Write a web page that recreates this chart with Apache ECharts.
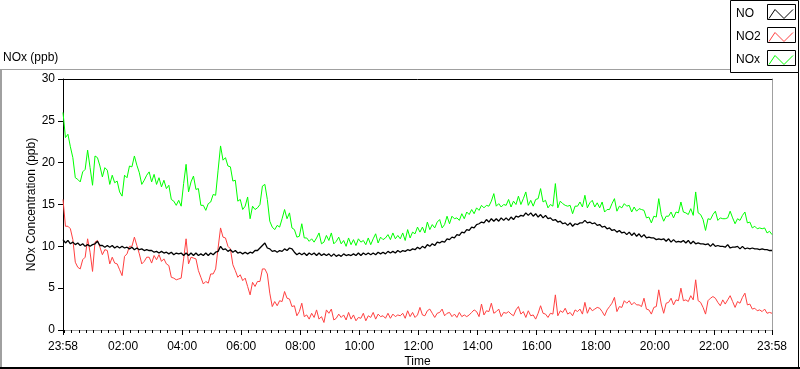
<!DOCTYPE html>
<html><head><meta charset="utf-8">
<script src="https://cdn.jsdelivr.net/npm/echarts@6/dist/echarts.min.js"></script>
<style>html,body{margin:0;padding:0;background:#fff}#c{width:800px;height:369px}</style>
</head><body><div id="c"></div><script>
// Time grid: minutes after 00:00, starting at 23:58 of the previous day, 5-minute samples
const startMinute = -2;
const stepMinutes = 5;
const endMinute = 1438;
const majorTicks = [-2, 120, 240, 360, 480, 600, 720, 840, 960, 1080, 1200, 1320, 1438];
const seriesNames = ['NO', 'NO2', 'NOx'];

// NO (ppb)
const no = [
10.8,10.4,10.7,10.3,10.5,10.2,10.4,10.1,10.3,10.0,10.2,10.0,
10.2,10.3,10.6,10.1,10.1,9.9,10.1,9.9,10.1,9.8,10.0,9.8,
10.0,9.8,9.9,9.7,9.9,9.6,9.8,9.6,9.7,9.5,9.6,9.5,
9.5,9.3,9.4,9.2,9.4,9.2,9.3,9.1,9.3,9.0,9.2,9.1,
9.2,8.9,9.2,8.9,9.2,8.9,9.2,8.9,9.1,8.9,9.2,8.9,
9.2,9.0,9.3,9.4,10.0,9.6,9.7,9.4,9.6,9.3,9.5,9.2,
9.3,9.1,9.3,9.1,9.3,9.2,9.5,9.5,9.8,10.1,10.4,9.8,
9.7,9.4,9.5,9.3,9.5,9.4,9.7,9.5,9.8,9.7,9.3,9.0,
9.2,9.0,9.2,8.9,9.2,9.0,9.2,8.9,9.2,8.9,9.1,8.9,
9.1,8.8,9.1,8.8,9.0,8.8,9.1,8.9,9.0,8.9,9.1,8.9,
9.2,8.9,9.2,9.0,9.2,9.0,9.2,9.0,9.3,9.1,9.3,9.1,
9.4,9.2,9.4,9.2,9.5,9.3,9.5,9.4,9.6,9.5,9.7,9.6,
9.9,9.7,10.0,9.8,10.2,10.0,10.3,10.1,10.5,10.4,10.6,10.5,
10.9,10.8,11.1,11.0,11.4,11.3,11.7,11.6,12.0,11.9,12.3,12.2,
12.6,12.7,12.9,12.8,13.2,12.9,13.3,13.0,13.3,13.0,13.4,13.1,
13.4,13.1,13.5,13.2,13.6,13.5,13.7,13.6,14.0,13.7,14.0,13.6,
13.9,13.5,13.8,13.4,13.7,13.3,13.4,13.1,13.2,12.9,13.0,12.7,
12.8,12.5,12.8,12.4,12.7,12.6,12.8,12.8,13.1,12.8,12.9,12.7,
12.8,12.5,12.6,12.3,12.4,12.1,12.2,11.9,12.0,11.7,11.9,11.6,
11.7,11.4,11.7,11.3,11.6,11.2,11.5,11.1,11.4,11.0,11.1,11.0,
11.0,10.8,10.9,10.8,10.9,10.6,10.9,10.5,10.8,10.5,10.6,10.5,
10.7,10.4,10.7,10.3,10.6,10.3,10.4,10.3,10.3,10.2,10.3,10.0,
10.3,10.0,10.1,10.0,10.0,9.9,10.2,9.8,9.9,9.9,10.0,9.7,
10.0,9.7,9.8,9.7,9.8,9.7,9.7,9.6,9.7,9.6,9.6,9.5,
9.5];

// NO2 (ppb)
const no2 = [
15.6,12.4,12.4,12.1,10.8,8.1,7.5,7.3,8.4,8.7,10.9,9.3,
7.0,10.5,10.7,9.9,9.0,9.6,9.5,7.9,8.7,8.0,7.9,7.2,
6.5,8.8,9.1,10.0,10.0,11.1,10.1,9.1,7.9,8.2,8.7,8.7,
8.0,8.9,8.4,9.0,8.2,8.5,7.9,7.7,6.3,6.2,6.0,6.1,
6.2,8.5,10.9,7.9,8.7,8.6,8.5,7.1,6.3,5.5,5.8,5.6,
6.7,6.7,7.3,9.8,12.2,11.1,11.0,10.0,9.7,7.8,7.1,6.3,
6.6,5.9,6.2,5.2,4.2,5.7,5.2,5.8,5.8,7.3,7.3,6.7,
4.4,2.8,3.4,2.9,3.5,3.4,4.6,3.8,3.7,2.8,2.9,1.7,
2.2,3.2,1.6,1.8,1.3,2.0,1.5,2.4,1.3,1.6,0.9,2.4,
2.0,2.5,1.2,1.4,1.9,1.5,1.8,1.2,2.1,1.3,1.8,1.1,
1.5,1.4,2.0,1.1,1.7,1.5,2.1,1.3,1.9,1.6,1.7,1.4,
2.0,1.4,1.9,1.6,1.8,1.7,2.0,1.4,2.3,1.6,2.1,1.5,
1.8,2.7,1.8,1.7,2.3,2.5,2.0,1.5,2.0,2.1,2.5,1.7,
2.0,2.1,1.6,1.9,1.5,2.1,1.6,1.8,1.6,1.8,2.1,2.4,
2.2,1.6,3.1,1.8,2.3,2.2,3.2,2.0,2.2,2.5,1.6,2.1,
2.0,2.2,1.9,1.7,2.4,2.8,1.9,2.2,1.5,2.3,1.7,1.8,
1.3,2.0,2.9,2.0,1.9,1.5,2.0,1.9,4.2,1.7,2.3,2.1,
2.6,1.9,2.1,1.7,2.4,2.2,2.5,1.9,3.3,2.0,2.7,2.3,
2.5,2.7,2.6,2.2,1.7,2.4,2.8,3.2,3.9,2.2,2.8,2.7,
3.5,3.2,3.5,3.0,3.3,3.0,3.0,2.8,3.8,2.5,2.4,1.9,
2.7,2.8,4.8,3.1,2.0,3.2,3.3,3.8,3.0,3.6,3.5,5.0,
3.5,3.6,3.4,4.1,3.6,6.0,3.5,3.3,2.7,1.9,3.5,3.8,
4.0,3.8,3.3,2.9,3.6,3.1,3.6,4.1,3.4,2.7,3.4,3.2,
3.9,4.4,3.0,3.1,2.5,2.6,2.3,2.4,2.2,2.5,2.0,2.1,
2.0];

// NOx (ppb)
const nox = [
26.0,23.0,23.4,21.9,20.6,18.2,18.0,17.7,18.9,19.2,21.5,19.4,
17.3,20.8,20.6,19.6,18.3,19.4,19.1,17.4,18.5,17.6,17.8,16.5,
16.0,18.5,18.2,19.6,19.5,20.8,19.7,18.8,17.4,17.9,18.5,18.9,
17.7,18.6,17.4,18.2,17.1,17.9,16.9,17.3,15.6,15.4,14.9,15.5,
14.8,17.5,19.8,16.5,17.7,18.4,16.8,16.9,14.9,14.9,14.3,15.1,
15.3,16.2,16.1,19.1,22.0,20.3,20.6,19.6,19.5,17.8,17.9,15.4,
15.6,14.4,14.8,15.9,13.3,14.8,14.4,14.6,15.0,17.2,17.4,15.6,
13.0,12.3,12.0,12.5,12.3,13.3,14.4,13.3,14.0,12.2,12.0,11.1,
11.2,12.7,11.0,11.0,10.6,10.9,10.5,11.0,11.6,10.3,10.5,11.3,
10.7,11.6,10.3,10.6,11.1,10.3,10.7,10.0,11.0,10.2,10.8,10.1,
10.9,10.5,10.7,10.2,11.0,10.2,10.9,11.5,10.4,11.1,10.8,11.0,
11.4,10.8,11.6,10.9,11.3,10.9,11.6,10.7,12.0,11.0,11.7,11.5,
12.3,11.7,12.3,11.6,12.9,12.0,12.6,12.2,12.9,13.2,12.2,12.6,
13.6,12.7,13.6,13.3,13.4,13.1,13.9,13.3,14.1,13.8,14.4,13.9,
14.6,14.3,14.9,14.6,14.9,14.8,15.4,16.3,14.8,15.1,14.7,15.0,
14.9,15.6,14.7,15.4,15.0,16.0,15.0,15.7,16.5,14.9,15.5,14.8,
15.6,15.7,16.9,15.3,15.5,14.6,15.0,14.8,17.5,14.6,15.4,15.1,
14.9,14.8,14.9,13.9,14.8,14.8,15.3,14.7,16.1,14.6,15.2,15.5,
14.7,15.2,14.6,15.3,14.1,14.4,14.4,15.1,15.7,14.2,14.8,14.6,
15.1,14.8,14.9,14.1,14.7,14.2,14.5,14.4,14.3,13.4,13.5,12.8,
13.6,13.5,15.7,13.8,13.0,13.6,13.6,14.1,13.4,14.1,14.0,15.3,
14.1,14.0,13.8,14.5,13.7,16.5,14.0,13.8,13.2,11.9,13.3,13.2,
13.8,14.2,13.1,13.4,13.3,13.3,13.4,14.2,13.4,12.7,13.3,13.1,
13.7,14.1,12.8,12.9,12.2,12.4,12.1,12.2,12.1,12.2,11.6,11.8,
11.4];

const FONT = '"Liberation Sans", Arial, sans-serif';
const minorTicks = [];
for (let m = 0; m < endMinute; m += 15) minorTicks.push(m);

function pairs(arr) { return arr.map((v, i) => [startMinute + i * stepMinutes, v]); }
function clock(v) {
  const m = ((Math.round(v) % 1440) + 1440) % 1440;
  return String(Math.floor(m / 60)).padStart(2, '0') + ':' + String(m % 60).padStart(2, '0');
}

const chart = echarts.init(document.getElementById('c'), null, {renderer: 'canvas'});
const boxY = [4, 27, 50];
const option = {
  animation: false,
  backgroundColor: '#fff',
  textStyle: {fontFamily: FONT},
  title: {text: 'NOx (ppb)', left: 3, top: 52, padding: 0,
    textStyle: {fontSize: 12, fontWeight: 'normal', color: '#000', fontFamily: FONT}},
  grid: {left: 63, right: 28, top: 79, bottom: 39, containLabel: false, outerBoundsMode: 'none'},
  legend: {
    orient: 'vertical', left: 736, top: 4, align: 'right', padding: 0,
    itemWidth: 28, itemHeight: 15, itemGap: 3,
    selectedMode: false,
    icon: 'path://M0,0M28,15M2,12L8,3L17,12L26,3',
    formatter: '{t|{name}}',
    textStyle: {rich: {t: {width: 26, height: 15, lineHeight: 15, align: 'left', fontSize: 12, color: '#000', fontFamily: FONT}}},
    data: [
      {name: 'NO', itemStyle: {color: 'none', borderColor: '#000000', borderWidth: 1}},
      {name: 'NO2', itemStyle: {color: 'none', borderColor: '#ff4040', borderWidth: 1}},
      {name: 'NOx', itemStyle: {color: 'none', borderColor: '#00ff00', borderWidth: 1}}
    ]
  },
  xAxis: [
    {type: 'value', min: startMinute, max: endMinute, position: 'bottom',
     name: 'Time', nameLocation: 'middle', nameGap: 26, nameMoveOverlap: false,
     nameTextStyle: {fontSize: 12, color: '#000', fontFamily: FONT},
     axisLine: {onZero: false, lineStyle: {color: '#a0a0a0', width: 1}},
     axisTick: {show: true, length: 5, customValues: majorTicks, lineStyle: {color: '#000'}},
     axisLabel: {customValues: majorTicks, formatter: clock, margin: 11, fontSize: 12, color: '#000',
       fontFamily: FONT, showMinLabel: true, showMaxLabel: true},
     splitLine: {show: false}},
    {type: 'value', min: startMinute, max: endMinute, position: 'bottom',
     axisLine: {show: false, onZero: false},
     axisTick: {show: true, length: 3, customValues: minorTicks, lineStyle: {color: '#000'}},
     axisLabel: {show: false}, splitLine: {show: false}},
    {type: 'value', min: startMinute, max: endMinute, position: 'top',
     axisLine: {show: true, onZero: false, lineStyle: {color: '#000'}},
     axisTick: {show: false}, axisLabel: {show: false}, splitLine: {show: false}}
  ],
  yAxis: [
    {type: 'value', min: 0, max: 30, interval: 5, position: 'left',
     name: 'NOx Concentration (ppb)', nameLocation: 'middle', nameGap: 25, nameMoveOverlap: false,
     nameTextStyle: {fontSize: 12, color: '#000', fontFamily: FONT},
     axisLine: {show: true, onZero: false, lineStyle: {color: '#000'}},
     axisTick: {show: true, length: 5, lineStyle: {color: '#000'}},
     axisLabel: {margin: 8, fontSize: 12, color: '#000', fontFamily: FONT},
     splitLine: {show: false}},
    {type: 'value', min: 0, max: 30, position: 'right',
     axisLine: {show: true, onZero: false, lineStyle: {color: '#a0a0a0'}},
     axisTick: {show: false}, axisLabel: {show: false}, splitLine: {show: false}}
  ],
  series: [
    {name: 'NOx', type: 'line', data: pairs(nox), symbol: 'none', lineStyle: {color: '#00ff00', width: 1}, itemStyle: {color: '#00ff00'}, z: 2},
    {name: 'NO2', type: 'line', data: pairs(no2), symbol: 'none', lineStyle: {color: '#ff4040', width: 1}, itemStyle: {color: '#ff4040'}, z: 3},
    {name: 'NO', type: 'line', data: pairs(no), symbol: 'none', lineStyle: {color: '#000000', width: 1.3}, itemStyle: {color: '#000000'}, z: 4}
  ],
  graphic: {elements: [
    {type: 'line', shape: {x1: 0, y1: 69.5, x2: 730, y2: 69.5}, style: {stroke: '#a0a0a0', lineWidth: 1}, silent: true, z: 0},
    {type: 'line', shape: {x1: 1, y1: 69, x2: 1, y2: 369}, style: {stroke: '#a0a0a0', lineWidth: 2}, silent: true, z: 0},
    {type: 'line', shape: {x1: 0, y1: 368, x2: 800, y2: 368}, style: {stroke: '#000', lineWidth: 2}, silent: true, z: 0},
    {type: 'line', shape: {x1: 798.5, y1: 72, x2: 798.5, y2: 369}, style: {stroke: '#000', lineWidth: 1}, silent: true, z: 0},
    {type: 'rect', shape: {x: 730.5, y: 0.5, width: 68, height: 72}, style: {fill: '#fff', stroke: '#000', lineWidth: 1}, silent: true, z: 0},
    {type: 'rect', shape: {x: 767.5, y: boxY[0] + 0.5, width: 28, height: 15}, style: {fill: '#fff', stroke: '#000', lineWidth: 1}, silent: true, z: 1},
    {type: 'rect', shape: {x: 767.5, y: boxY[1] + 0.5, width: 28, height: 15}, style: {fill: '#fff', stroke: '#000', lineWidth: 1}, silent: true, z: 1},
    {type: 'rect', shape: {x: 767.5, y: boxY[2] + 0.5, width: 28, height: 15}, style: {fill: '#fff', stroke: '#000', lineWidth: 1}, silent: true, z: 1}
  ]}
};
chart.setOption(option);
</script></body></html>
